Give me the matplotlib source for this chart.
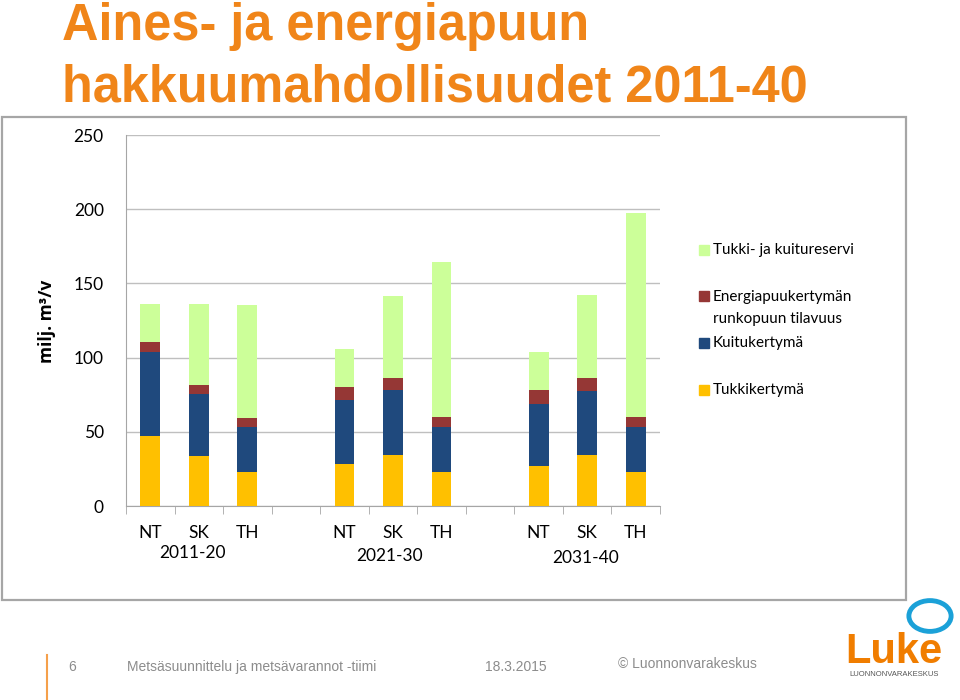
import matplotlib
matplotlib.use("Agg")
import matplotlib.pyplot as plt
from matplotlib.patches import Rectangle, Circle
from matplotlib.transforms import blended_transform_factory

# ---- data ----
categories = ["NT", "SK", "TH", "NT", "SK", "TH", "NT", "SK", "TH"]
periods = ["2011-20", "2021-30", "2031-40"]
tukki = [47.3, 33.8, 22.6, 28.0, 34.3, 22.6, 26.8, 34.3, 22.6]
kuitu = [56.7, 41.5, 30.6, 43.2, 43.7, 30.6, 42.1, 43.4, 30.6]
energia = [6.8, 6.3, 6.3, 8.8, 8.1, 6.9, 9.3, 8.4, 6.9]
reservi = [25.5, 54.2, 75.9, 25.7, 55.6, 104.1, 25.7, 55.8, 137.5]
series_names = ["Tukkikertymä", "Kuitukertymä",
                "Energiapuukertymän\nrunkopuun tilavuus", "Tukki- ja kuitureservi"]
colors = ["#FFC000", "#1F497D", "#953735", "#CCFF99"]
yticks = [0, 50, 100, 150, 200, 250]

positions = [0, 1, 2, 4, 5, 6, 8, 9, 10]

body = ["Lato", "DejaVu Sans"]
narrow = ["Liberation Sans Narrow", "Liberation Sans", "DejaVu Sans"]

fig = plt.figure(figsize=(9.6, 7), dpi=100)
fig.patch.set_facecolor("white")

# chart frame
fig.patches.append(Rectangle((0.002, 0.1429), 0.942, 0.69, transform=fig.transFigure,
                             fill=False, edgecolor="#A6A6A6", linewidth=1.6, zorder=0))

ax = fig.add_axes([0.13125, 0.27714, 0.55625, 0.53])
bottom = [0.0] * len(positions)
for vals, col, name in zip([tukki, kuitu, energia, reservi], colors, series_names):
    ax.bar(positions, vals, bottom=bottom, width=0.41, color=col, label=name, zorder=3)
    bottom = [b + v for b, v in zip(bottom, vals)]

ax.set_xlim(-0.5, 10.5)
ax.set_ylim(0, 250)
ax.set_yticks(yticks)
ax.set_yticklabels([str(t) for t in yticks], fontfamily=body, fontsize=12.5, color="black")
ax.tick_params(axis="y", length=0, pad=16)
ax.grid(axis="y", color="#BFBFBF", linewidth=1, zorder=0)
ax.set_axisbelow(True)
for s in ["top", "right"]:
    ax.spines[s].set_visible(False)
ax.spines["left"].set_color("#A6A6A6")
ax.spines["bottom"].set_color("#A6A6A6")

ax.set_xticks(positions)
ax.set_xticklabels(categories, fontfamily=body, fontsize=12.5)
ax.tick_params(axis="x", length=0, pad=14)
ax.set_xticks([i - 0.5 for i in range(12)], minor=True)
ax.tick_params(axis="x", which="minor", length=6, color="#A6A6A6", direction="out")

trans = blended_transform_factory(ax.transData, fig.transFigure)
for px, py, lab in zip([0.86, 4.92, 8.97], [1 - 553 / 700, 1 - 556 / 700, 1 - 558 / 700], periods):
    ax.text(px, py, lab, transform=trans, ha="center", va="center",
            fontfamily=body, fontsize=12.5)

fig.text(0.049, 1 - 321 / 700, "milj. m³/v", rotation=90, ha="center", va="center",
         fontfamily=["Open Sans", "DejaVu Sans"], fontsize=12.5, fontweight="bold")

# legend (manual, order as in reference)
leg_items = [(3, 250), (2, 296), (1, 343), (0, 390)]
for idx, ypx in leg_items:
    fig.patches.append(Rectangle((699 / 960, 1 - (ypx + 5) / 700), 10 / 960, 10 / 700,
                                 transform=fig.transFigure, color=colors[idx]))
    if "\n" in series_names[idx]:
        fig.text(713 / 960, 1 - (ypx - 6) / 700, series_names[idx], ha="left", va="top",
                 fontfamily=body, fontsize=11, linespacing=1.75)
    else:
        fig.text(713 / 960, 1 - ypx / 700, series_names[idx], ha="left", va="center",
                 fontfamily=body, fontsize=11)

# title
title_col = "#F08519"
fig.text(62 / 960, 1 - 40 / 700, "Aines- ja energiapuun", fontfamily=narrow, fontweight="bold",
         fontsize=36.4, color=title_col, ha="left", va="baseline")
fig.text(62 / 960, 1 - 102 / 700, "hakkuumahdollisuudet 2011-40", fontfamily=narrow,
         fontweight="bold", fontsize=36.4, color=title_col, ha="left", va="baseline")

# footer
fig.add_artist(plt.Line2D([47 / 960, 47 / 960], [0, 1 - 655 / 700], transform=fig.transFigure,
                          color="#F5A04B", linewidth=1.5))
foot_col = "#8C8C8C"
fig.text(68 / 960, 1 - 667 / 700, "6", fontfamily=narrow, fontsize=10, color=foot_col, va="center")
fig.text(127 / 960, 1 - 667 / 700, "Metsäsuunnittelu ja metsävarannot -tiimi", fontfamily=narrow,
         fontsize=10, color=foot_col, va="center")
fig.text(485 / 960, 1 - 667 / 700, "18.3.2015", fontfamily=narrow, fontsize=10,
         color=foot_col, va="center")
fig.text(618 / 960, 1 - 664 / 700, "© Luonnonvarakeskus", fontfamily=narrow, fontsize=10,
         color=foot_col, va="center")

# Luke logo (approximation)
fig.patches.append(Circle((930 / 960, 1 - 616 / 700), 0.022, transform=fig.transFigure,
                          fill=False, edgecolor="#1BA1D8", linewidth=3.5))
fig.text(894 / 960, 1 - 663 / 700, "Luke", fontfamily=narrow, fontweight="bold", fontsize=30,
         color="#F07D00", ha="center", va="baseline")
fig.text(894 / 960, 1 - 676 / 700, "LUONNONVARAKESKUS", fontfamily=narrow, fontsize=5.5,
         color="#555555", ha="center", va="baseline")

fig.savefig("out.png", dpi=100)
